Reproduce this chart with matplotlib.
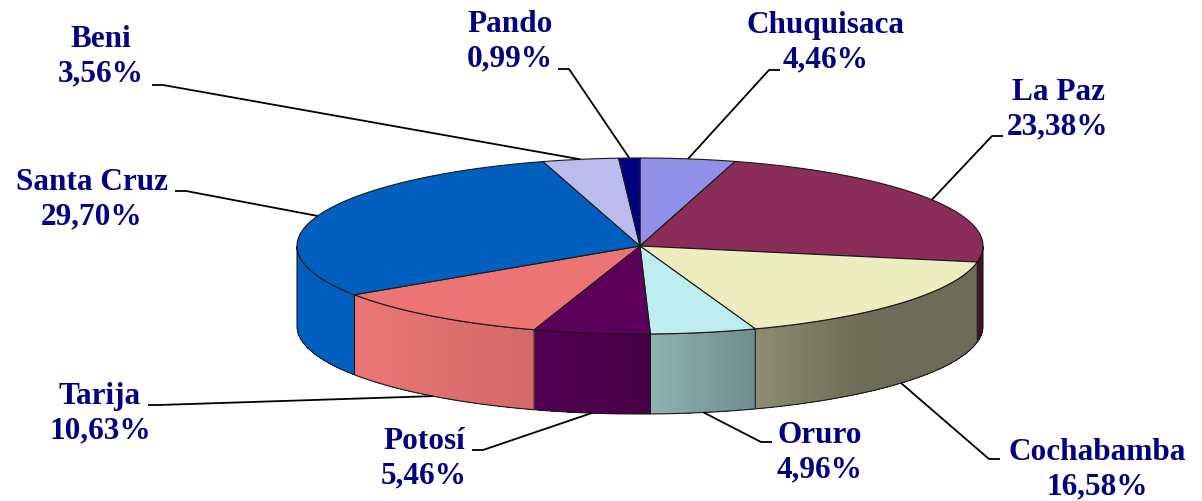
import numpy as np
import matplotlib
matplotlib.use("Agg")
import matplotlib.pyplot as plt
from matplotlib.patches import Polygon
from matplotlib.collections import PolyCollection
from matplotlib.colors import to_rgb

departamentos = ["Chuquisaca", "La Paz", "Cochabamba", "Oruro", "Potosí",
                 "Tarija", "Santa Cruz", "Beni", "Pando"]
porcentajes = [4.46, 23.38, 16.58, 4.96, 5.46, 10.63, 29.70, 3.56, 0.99]
colores = ["#9090e8", "#8b2d5b", "#ededc0", "#bdedee", "#5c005c",
           "#eb7575", "#005fbf", "#bbbbee", "#000080"]

# centro de cada etiqueta y comienzo del conector (pixeles)
pos_etiqueta = [(826, 43), (1058, 110), (1097, 470), (820, 453), (424, 459),
                (100, 414), (92, 200), (101, 57), (510, 42)]
pos_conector = [(780, 71), (1003, 137), (1000, 460), (772, 443), (472, 451),
                (148, 406), (175, 192), (152, 86), (558, 70)]

# geometria de la torta 3D
cx, cy, rx, ry, prof = 640, 247, 343, 88, 80


def punto(ang, dz=0.0):
    a = np.radians(ang)
    return cx + rx * np.cos(a), cy - ry * np.sin(a) + dz


def sombra(x):
    # luz desde la izquierda
    return np.interp(x, [297, 355, 530, 645, 750, 860, 983],
                     [1.0, 1.0, 0.9, 0.76, 0.6, 0.46, 0.45])


fig = plt.figure(figsize=(12.02, 5.02), dpi=100)
ax = fig.add_axes([0, 0, 1, 1])
ax.set_xlim(0, 1202)
ax.set_ylim(502, 0)
ax.axis("off")

frac = np.array(porcentajes) / sum(porcentajes)
bordes = 90 - 360 * np.concatenate([[0], np.cumsum(frac)])

# caras laterales (solo la mitad frontal)
for i in range(len(porcentajes)):
    hi = min(bordes[i], 0)
    lo = max(bordes[i + 1], -180)
    if lo >= hi:
        continue
    n = max(2, int((hi - lo) / 0.5) + 1)
    t = np.linspace(hi, lo, n)
    base = np.array(to_rgb(colores[i]))
    quads, cols = [], []
    for k in range(n - 1):
        x0, y0 = punto(t[k])
        x1, y1 = punto(t[k + 1])
        quads.append([(x0, y0), (x1, y1), (x1, y1 + prof), (x0, y0 + prof)])
        cols.append(np.clip(base * sombra((x0 + x1) / 2), 0, 1))
    ax.add_collection(PolyCollection(quads, facecolors=cols, linewidths=0,
                                     antialiaseds=False))
    arriba = [punto(a) for a in t]
    abajo = [punto(a, prof) for a in t[::-1]]
    ax.add_patch(Polygon(arriba + abajo, closed=True, fill=False,
                         edgecolor="#1a1a1a", lw=0.8))

# caras superiores
for i in range(len(porcentajes)):
    t = np.linspace(bordes[i], bordes[i + 1], 200)
    pts = [(cx, cy)] + [punto(a) for a in t]
    ax.add_patch(Polygon(pts, closed=True, facecolor=colores[i],
                         edgecolor="#1a1a1a", lw=0.8))

# etiquetas y conectores
for i, nombre in enumerate(departamentos):
    medio = (bordes[i] + bordes[i + 1]) / 2
    if np.sin(np.radians(medio)) >= 0:
        ex, ey = punto(medio)
    else:
        ex, ey = punto(medio, prof)
    sx, sy = pos_conector[i]
    codo = sx + 11 * np.sign(ex - sx)
    ax.plot([sx, codo, ex], [sy, sy, ey], color="black", lw=1.3,
            solid_capstyle="butt")
    texto = nombre + "\n" + f"{porcentajes[i]:.2f}".replace(".", ",") + "%"
    ax.text(pos_etiqueta[i][0], pos_etiqueta[i][1], texto, ha="center",
            va="center", multialignment="center", fontsize=22.5,
            family="Liberation Serif", weight="bold", color="#000080",
            linespacing=1.25)

fig.savefig("out.png", dpi=100)
